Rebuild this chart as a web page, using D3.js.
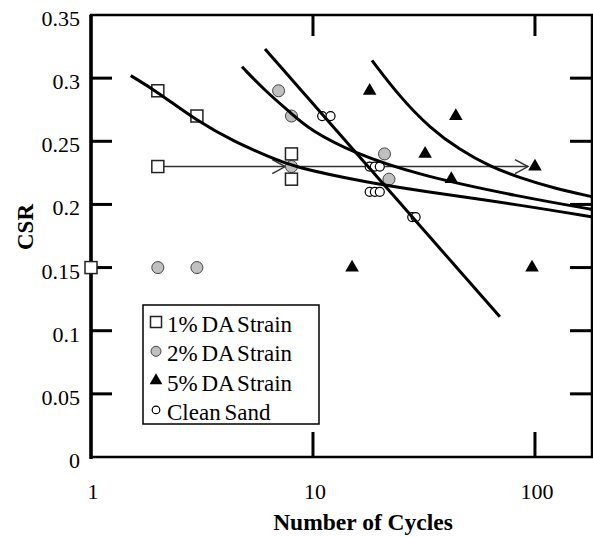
<!DOCTYPE html>
<html>
<head>
<meta charset="utf-8">
<script src="https://cdn.jsdelivr.net/npm/d3@7"></script>
<style>
  body { margin: 0; background: #fff; }
  svg { display: block; }
  text { font-family: "Liberation Serif", "Times New Roman", serif; }
</style>
</head>
<body>
<svg id="chart" width="593" height="537"></svg>
<script>
// data: [cycles, CSR]
const strain1 = [[1, 0.15], [2, 0.29], [3, 0.27], [2, 0.23], [8, 0.24], [8, 0.22]]
const strain2 = [[2, 0.15], [3, 0.15], [7, 0.29], [8, 0.27], [8, 0.23], [21, 0.24], [22, 0.22]]
const strain5 = [[18, 0.29], [44, 0.27], [32, 0.24], [42, 0.22], [100, 0.23], [15, 0.15], [97, 0.15]]
const cleanSand = [[11, 0.27], [12, 0.27], [18, 0.23], [19, 0.23], [20, 0.23], [18, 0.21], [19, 0.21], [20, 0.21], [28, 0.19], [29, 0.19]]

const curve1 = [[1.51, 0.302], [2, 0.289], [3, 0.266], [4.5, 0.249], [6.4, 0.2375], [8, 0.23], [18, 0.217], [30, 0.211], [86, 0.1995], [182, 0.19]]
const curve2 = [[4.79, 0.309], [6, 0.291], [8, 0.272], [9.7, 0.259], [15.1, 0.241], [30, 0.223], [86, 0.206], [182, 0.196]]
const curve5 = [[18.44, 0.314], [24.65, 0.285], [33.65, 0.2605], [45.9, 0.2431], [62.7, 0.230], [85.6, 0.221], [120.5, 0.213], [182, 0.206]]
const cleanLine = [[6.08, 0.323], [69.5, 0.111]]

// arrow at CSR 0.23: from, first head, second head
const arrowPts = [[2, 0.23], [7.5, 0.23], [93, 0.23]]

const xTicks = [1, 10, 100]
const yTicks = [0, 0.05, 0.1, 0.15, 0.2, 0.25, 0.3, 0.35]

const legendItems = ['1% DA Strain', '2% DA Strain', '5% DA Strain', 'Clean Sand']

const svg = d3.select('#chart')

const x = d3.scaleLog().domain([1, 180.7]).range([91, 592])
const y = d3.scaleLinear().domain([0, 0.35]).range([457, 15])

// ticks, all pointing inward
const tickG = svg.append('g').attr('stroke', '#000').attr('stroke-width', 3)
yTicks.slice(1, -1).forEach(v => {
	tickG.append('line').attr('x1', x.range()[0]).attr('x2', x.range()[0] + 21).attr('y1', y(v)).attr('y2', y(v))
	tickG.append('line').attr('x1', x.range()[1] - 22).attr('x2', x.range()[1]).attr('y1', y(v)).attr('y2', y(v))
})
xTicks.slice(1).forEach(v => {
	tickG.append('line').attr('x1', x(v)).attr('x2', x(v)).attr('y1', y(0)).attr('y2', y(0) - 25)
	tickG.append('line').attr('x1', x(v)).attr('x2', x(v)).attr('y1', y(0.35)).attr('y2', y(0.35) + 21)
})

// frame
svg.append('rect')
	.attr('x', x.range()[0]).attr('y', y(0.35))
	.attr('width', x.range()[1] - x.range()[0]).attr('height', y(0) - y(0.35))
	.attr('fill', 'none').attr('stroke', '#000').attr('stroke-width', 2.5)
svg.append('line')
	.attr('x1', x.range()[0]).attr('x2', x.range()[0]).attr('y1', y(0.35)).attr('y2', y(0) + 2)
	.attr('stroke', '#000').attr('stroke-width', 3.5)

// tick labels
svg.append('g').selectAll('text').data(yTicks).enter().append('text')
	.attr('x', 80).attr('y', d => y(d) + 11)
	.attr('text-anchor', 'end').attr('font-size', 22)
	.text(d => d)
svg.append('g').selectAll('text').data(xTicks).enter().append('text')
	.attr('x', d => x(d) + 2).attr('y', 499)
	.attr('text-anchor', 'middle').attr('font-size', 22)
	.text(d => d)

svg.append('text')
	.attr('x', 363).attr('y', 530)
	.attr('text-anchor', 'middle').attr('font-size', 23.5).attr('font-weight', 'bold')
	.text('Number of Cycles')
svg.append('text')
	.attr('transform', 'translate(33,227) rotate(-90)')
	.attr('text-anchor', 'middle').attr('font-size', 23).attr('font-weight', 'bold')
	.text('CSR')

// arrow
const arrowG = svg.append('g').attr('stroke', '#333').attr('stroke-width', 1.5).attr('fill', 'none')
arrowG.append('line')
	.attr('x1', x(arrowPts[0][0])).attr('x2', x(arrowPts[2][0]))
	.attr('y1', y(arrowPts[0][1])).attr('y2', y(arrowPts[2][1]))
arrowPts.slice(1).forEach(p => {
	const px = x(p[0]), py = y(p[1])
	arrowG.append('path').attr('d', `M${px - 13},${py - 7}L${px},${py}L${px - 13},${py + 7}`)
})

// markers
const drawSquares = (g, pts, s) => g.selectAll('rect').data(pts).enter().append('rect')
	.attr('x', d => d[0] - s / 2).attr('y', d => d[1] - s / 2)
	.attr('width', s).attr('height', s)
	.attr('fill', '#fff').attr('stroke', '#222').attr('stroke-width', 1.5)
const drawGray = (g, pts, r) => g.selectAll('circle').data(pts).enter().append('circle')
	.attr('cx', d => d[0]).attr('cy', d => d[1]).attr('r', r)
	.attr('fill', '#c0c0c0').attr('stroke', '#444').attr('stroke-width', 1)
const drawTri = (g, pts, size) => g.selectAll('path').data(pts).enter().append('path')
	.attr('d', d3.symbol(d3.symbolTriangle, size))
	.attr('transform', d => `translate(${d[0]},${d[1]})`)
	.attr('fill', '#000')
const drawOpen = (g, pts, r) => g.selectAll('circle').data(pts).enter().append('circle')
	.attr('cx', d => d[0]).attr('cy', d => d[1]).attr('r', r)
	.attr('fill', '#fff').attr('stroke', '#000').attr('stroke-width', 1.2)

const toPx = arr => arr.map(d => [x(d[0]), y(d[1])])

drawGray(svg.append('g'), toPx(strain2), 6)
drawSquares(svg.append('g'), toPx(strain1), 12)
drawTri(svg.append('g'), toPx(strain5), 80)
drawOpen(svg.append('g'), toPx(cleanSand), 4.5)

// curves
const line = d3.line().x(d => x(d[0])).y(d => y(d[1])).curve(d3.curveBasis)
;[curve1, curve2, curve5, cleanLine].forEach(c => {
	svg.append('path').attr('d', line(c))
		.attr('fill', 'none').attr('stroke', '#000').attr('stroke-width', 3)
})

// legend
const lg = svg.append('g')
lg.append('rect').attr('x', 143).attr('y', 305).attr('width', 176).attr('height', 119)
	.attr('fill', '#fff').attr('stroke', '#000').attr('stroke-width', 1.5)
const rowY = i => 322 + i * 29.3
drawSquares(lg.append('g'), [[156, rowY(0)]], 11)
drawGray(lg.append('g'), [[156, rowY(1)]], 5)
drawTri(lg.append('g'), [[156, rowY(2)]], 70)
drawOpen(lg.append('g'), [[156, rowY(3)]], 3.8)
lg.selectAll('text').data(legendItems).enter().append('text')
	.attr('x', 167).attr('y', (d, i) => rowY(i) + 10)
	.attr('font-size', 23).attr('word-spacing', -2)
	.text(d => d)
</script>
</body>
</html>
